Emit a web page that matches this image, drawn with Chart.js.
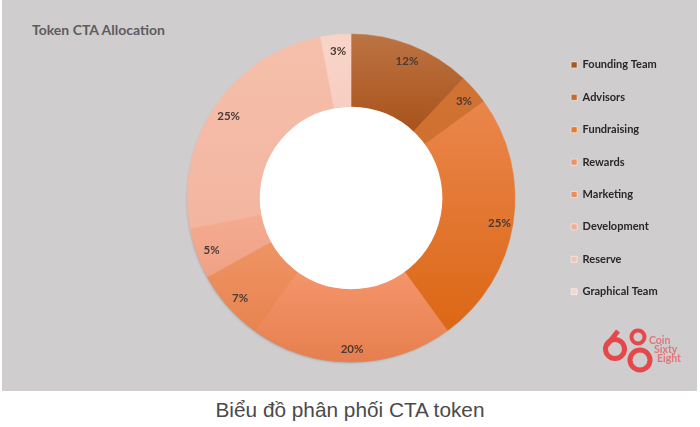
<!DOCTYPE html>
<html>
<head>
<meta charset="utf-8">
<script src="https://cdn.jsdelivr.net/npm/chart.js@4/dist/chart.umd.min.js"></script>
<style>
  html, body { margin: 0; padding: 0; background: #fff; }
  #wrap { position: relative; width: 700px; height: 427px; overflow: hidden; }
  #panel { position: absolute; left: 2px; top: 0; width: 695px; height: 391px; background: #cfcdce; }
  #chart { position: absolute; left: 0; top: 0; }
  #title { position: absolute; left: 32px; top: 21px; font: bold 14px Lato, sans-serif; color: #5e5c5e; white-space: nowrap; }
  #caption { position: absolute; left: 0; width: 700px; top: 398px; text-align: center; font: 20.8px "Liberation Sans", sans-serif; color: #4a4a4a; }
  #logo { position: absolute; left: 600px; top: 325px; }
</style>
</head>
<body>
<div id="wrap">
  <div id="panel"></div>
  <div id="title">Token CTA Allocation</div>
  <div id="caption">Biểu đồ phân phối CTA token</div>
  <div style="position:absolute;left:0;top:0;width:700px;height:392px"><canvas id="chart" width="700" height="392"></canvas></div>
  <svg id="logo" width="90" height="55" viewBox="600 325 90 55">
    <g fill="none" stroke="#e5484a">
      <circle cx="615" cy="349" r="9.5" stroke-width="5"/>
      <path d="M607 345 L618 331" stroke-width="5"/>
      <circle cx="638" cy="337" r="6.5" stroke-width="4"/>
      <circle cx="640" cy="360" r="10" stroke-width="5"/>
    </g>
    <g font-family="Lato, sans-serif" font-size="10.5" font-weight="bold" fill="#e0757a">
      <text x="649" y="344">Coin</text>
      <text x="654" y="353">Sixty</text>
      <text x="657" y="362">Eight</text>
    </g>
  </svg>
</div>
<script>
var labels = ['Founding Team', 'Advisors', 'Fundraising', 'Rewards', 'Marketing', 'Development', 'Reserve', 'Graphical Team'];
var values = [12, 3, 25, 20, 7, 5, 25, 3];
var topColors = ['#bc7443', '#cf7334', '#ea864c', '#f4956a', '#ee9464', '#f4ab90', '#f5c0ab', '#f8d4c8'];
var bottomColors = ['#a9521a', '#d0702f', '#dc6715', '#e67f4f', '#e88450', '#f0a185', '#f3b5a0', '#f7cfc2'];
var legendColors = ['#a9591f', '#c8682a', '#ec7a2a', '#f28f63', '#ee8c5c', '#f3ab92', '#f5c2af', '#f8d6cb'];

// fills each slice with its own top to bottom gradient
var sliceFill = {
    id: 'sliceFill',
    beforeDatasetDraw: function (chart) {
        var ctx = chart.ctx;
        chart.getDatasetMeta(0).data.forEach(function (arc, i) {
            var ys = [];
            for (var k = 0; k <= 20; k++) {
                var a = arc.startAngle + (arc.endAngle - arc.startAngle) * k / 20;
                ys.push(arc.y + Math.sin(a) * arc.outerRadius, arc.y + Math.sin(a) * arc.innerRadius);
            }
            var g = ctx.createLinearGradient(0, Math.min.apply(null, ys), 0, Math.max.apply(null, ys));
            g.addColorStop(0, topColors[i]);
            g.addColorStop(1, bottomColors[i]);
            arc.options.backgroundColor = g;
            arc.options.borderColor = g;
        });
    }
};

// white hole and the soft shadow under the ring
var ringBack = {
    id: 'ringBack',
    beforeDatasetsDraw: function (chart) {
        var ctx = chart.ctx;
        var arc = chart.getDatasetMeta(0).data[0];
        ctx.save();
        ctx.shadowColor = 'rgba(70,50,40,0.55)';
        ctx.shadowBlur = 3;
        ctx.shadowOffsetX = -1;
        ctx.shadowOffsetY = 2;
        ctx.fillStyle = '#e08050';
        ctx.beginPath();
        ctx.arc(arc.x, arc.y, arc.outerRadius - 2, 0, Math.PI * 2);
        ctx.fill();
        ctx.restore();
    },
    afterDatasetsDraw: function (chart) {
        var ctx = chart.ctx;
        var arc = chart.getDatasetMeta(0).data[0];
        ctx.save();
        ctx.fillStyle = '#ffffff';
        ctx.beginPath();
        ctx.arc(arc.x, arc.y, arc.innerRadius, 0, Math.PI * 2);
        ctx.fill();
        ctx.restore();
    }
};

// percent labels near the outer edge of each slice
var sliceLabels = {
    id: 'sliceLabels',
    afterDatasetsDraw: function (chart) {
        var ctx = chart.ctx;
        ctx.save();
        ctx.font = 'bold 11.5px Lato, sans-serif';
        ctx.fillStyle = '#4a3a35';
        ctx.textAlign = 'center';
        ctx.textBaseline = 'middle';
        chart.getDatasetMeta(0).data.forEach(function (arc, i) {
            var mid = (arc.startAngle + arc.endAngle) / 2;
            var r = arc.outerRadius * 0.91;
            ctx.fillText(values[i] + '%', arc.x + 1 + Math.cos(mid) * r, arc.y + 2 + Math.sin(mid) * r);
        });
        ctx.restore();
    }
};

var allocationChart = new Chart(document.getElementById('chart').getContext('2d'), {
    type: 'doughnut',
    data: {
        labels: labels,
        datasets: [{ data: values, backgroundColor: legendColors, borderWidth: 0.5 }]
    },
    options: {
        responsive: false,
        animation: false,
        radius: 164,
        cutout: 89,
        layout: { padding: { left: 152.4, right: 32.4, top: 38, bottom: 34 } },
        plugins: {
            tooltip: { enabled: false },
            legend: {
                position: 'right',
                align: 'start',
                labels: {
                    boxWidth: 6,
                    boxHeight: 6,
                    padding: 21.4,
                    color: '#2b2628',
                    font: { family: 'Lato, sans-serif', size: 11, weight: 'bold' }
                }
            }
        }
    },
    plugins: [ringBack, sliceFill, sliceLabels]
});
</script>
</body>
</html>
